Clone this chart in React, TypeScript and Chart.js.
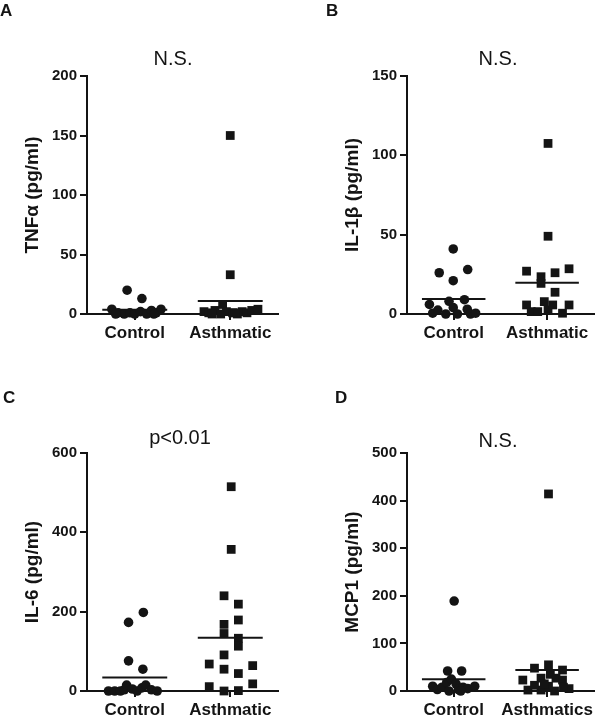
import React, { useEffect, useRef } from "react";
import { Chart, registerables } from "chart.js";

Chart.register(...registerables);

const FONT = 'Arial, "Liberation Sans", Helvetica, sans-serif';
const INK = "#141414";

// ---------- Panel A : TNFα ----------
const tnfLabels = ["Control", "Asthmatic"];
const tnfControl = [20, 13, 4, 1, 0, 1, 0, 2, 0, 3, 1, 4, 0, 0];
const tnfControlX = [0.84, 1.15, 0.52, 0.65, 0.78, 0.9, 1.0, 1.12, 1.25, 1.35, 1.45, 1.55, 0.6, 1.4];
const tnfAsthmatic = [150, 33, 8, 2, 1, 3, 0, 2, 1, 0, 2, 1, 3, 4, 0, 1];
const tnfAsthmaticX = [3.0, 3.0, 2.84, 2.45, 2.55, 2.68, 2.8, 2.92, 3.05, 3.15, 3.25, 3.35, 3.45, 3.58, 2.62, 3.1];
const tnfMeans = [3.5, 11];

// ---------- Panel B : IL-1β ----------
const il1Labels = ["Control", "Asthmatic"];
const il1Control = [41, 26, 28, 21, 6, 0.5, 2.5, 0, 8, 4, 0, 9, 3, 0, 0.5];
const il1ControlX = [0.99, 0.69, 1.3, 0.99, 0.48, 0.55, 0.66, 0.83, 0.9, 0.99, 1.08, 1.23, 1.29, 1.36, 1.47];
const il1Asthmatic = [107.5, 49, 27, 23.5, 26, 28.5, 13.7, 5.7, 1.5, 7.8, 2.5, 5.7, 0.5, 5.7, 19.3, 1.5];
const il1AsthmaticX = [3.02, 3.02, 2.56, 2.87, 3.17, 3.47, 3.17, 2.56, 2.66, 2.94, 3.02, 3.12, 3.33, 3.47, 2.87, 2.8];
const il1Means = [9.5, 19.7];

// ---------- Panel C : IL-6 ----------
const il6Labels = ["Control", "Asthmatic"];
const il6Control = [173, 198, 76, 55, 0, 0, 0, 3, 15, 5, 0, 8, 15, 3, 0];
const il6ControlX = [0.87, 1.18, 0.87, 1.17, 0.45, 0.58, 0.7, 0.78, 0.83, 0.95, 1.05, 1.15, 1.23, 1.35, 1.47];
const il6Asthmatic = [515, 357, 240, 219, 179, 168, 145, 133, 113, 91, 68, 64, 55, 44, 18, 11, 0, 1];
const il6AsthmaticX = [3.02, 3.02, 2.87, 3.17, 3.17, 2.87, 2.87, 3.17, 3.17, 2.87, 2.56, 3.47, 2.87, 3.17, 3.47, 2.56, 2.87, 3.17];
const il6Means = [34, 134];

// ---------- Panel D : MCP1 ----------
const mcpLabels = ["Control", "Asthmatics"];
const mcpControl = [189, 42, 42, 10, 3, 8, 18, 25, 15, 3, 8, 5, 10, 0, 0];
const mcpControlX = [1.01, 0.87, 1.17, 0.55, 0.65, 0.75, 0.85, 0.95, 1.05, 1.1, 1.2, 1.3, 1.45, 0.9, 1.15];
const mcpAsthmatic = [414, 23, 48, 55, 44, 27, 27, 23, 2, 2, 10, 0, 5, 15, 35, 12, 8];
const mcpAsthmaticX = [3.03, 2.48, 2.73, 3.03, 3.33, 2.87, 3.19, 3.33, 2.59, 2.87, 3.03, 3.16, 3.47, 2.94, 3.07, 2.73, 3.35];
const mcpMeans = [24.5, 44];

const MEAN_HALF = 0.68;

type PanelDef = {
  letter: string;
  note: string;
  yTitle: string;
  yMax: number;
  yStep: number;
  labels: string[];
  control: number[];
  controlX: number[];
  asth: number[];
  asthX: number[];
  means: number[];
  left: number;
  top: number;
  padLeft: number;
  padRight: number;
  padTop: number;
  padBottom: number;
  letterX: number;
  letterY: number;
  noteX: number;
  noteY: number;
};

const panels: PanelDef[] = [
  {
    letter: "A", note: "N.S.", yTitle: "TNFα (pg/ml)", yMax: 200, yStep: 50,
    labels: tnfLabels, control: tnfControl, controlX: tnfControlX, asth: tnfAsthmatic, asthX: tnfAsthmaticX, means: tnfMeans,
    left: 0, top: 0, padLeft: 0, padRight: 22, padTop: 76, padBottom: 18,
    letterX: 0, letterY: 16, noteX: 173, noteY: 65,
  },
  {
    letter: "B", note: "N.S.", yTitle: "IL-1β (pg/ml)", yMax: 150, yStep: 50,
    labels: il1Labels, control: il1Control, controlX: il1ControlX, asth: il1Asthmatic, asthX: il1AsthmaticX, means: il1Means,
    left: 300, top: 0, padLeft: 20, padRight: 3, padTop: 76, padBottom: 18,
    letterX: 26, letterY: 16, noteX: 198, noteY: 65,
  },
  {
    letter: "C", note: "p<0.01", yTitle: "IL-6 (pg/ml)", yMax: 600, yStep: 200,
    labels: il6Labels, control: il6Control, controlX: il6ControlX, asth: il6Asthmatic, asthX: il6AsthmaticX, means: il6Means,
    left: 0, top: 363, padLeft: 0, padRight: 22, padTop: 90, padBottom: 4,
    letterX: 3, letterY: 40, noteX: 180, noteY: 81,
  },
  {
    letter: "D", note: "N.S.", yTitle: "MCP1 (pg/ml)", yMax: 500, yStep: 100,
    labels: mcpLabels, control: mcpControl, controlX: mcpControlX, asth: mcpAsthmatic, asthX: mcpAsthmaticX, means: mcpMeans,
    left: 300, top: 363, padLeft: 20, padRight: 3, padTop: 90, padBottom: 4,
    letterX: 35, letterY: 40, noteX: 198, noteY: 84,
  },
];

const panelTextPlugin = {
  id: "panelText",
  afterDraw(chart: any, _args: any, opts: any) {
    const ctx = chart.ctx as CanvasRenderingContext2D;
    ctx.save();
    ctx.fillStyle = INK;
    ctx.textBaseline = "alphabetic";
    ctx.textAlign = "left";
    ctx.font = `bold 17px ${FONT}`;
    ctx.fillText(opts.letter, opts.letterX, opts.letterY);
    ctx.textAlign = "center";
    ctx.font = `20px ${FONT}`;
    ctx.fillText(opts.note, opts.noteX, opts.noteY);
    ctx.restore();
  },
};

function PanelChart({ p }: { p: PanelDef }) {
  const ref = useRef<HTMLCanvasElement | null>(null);
  useEffect(() => {
    if (!ref.current) return;
    const ctrlPts = p.control.map((v, i) => ({ x: p.controlX[i], y: v }));
    const asthPts = p.asth.map((v, i) => ({ x: p.asthX[i], y: v }));
    const chart = new Chart(ref.current, {
      type: "scatter",
      data: {
        datasets: [
          {
            data: ctrlPts,
            pointStyle: "circle",
            pointRadius: 4.8,
            backgroundColor: INK,
            borderColor: INK,
            borderWidth: 0,
            clip: false,
          } as any,
          {
            data: asthPts,
            pointStyle: "rect",
            pointRadius: 6.2,
            backgroundColor: INK,
            borderColor: INK,
            borderWidth: 0,
            clip: false,
          } as any,
          {
            data: [
              { x: 1 - MEAN_HALF, y: p.means[0] },
              { x: 1 + MEAN_HALF, y: p.means[0] },
            ],
            showLine: true,
            pointRadius: 0,
            borderColor: INK,
            borderWidth: 2,
            clip: false,
          } as any,
          {
            data: [
              { x: 3 - MEAN_HALF, y: p.means[1] },
              { x: 3 + MEAN_HALF, y: p.means[1] },
            ],
            showLine: true,
            pointRadius: 0,
            borderColor: INK,
            borderWidth: 2,
            clip: false,
          } as any,
        ],
      },
      options: {
        animation: false,
        responsive: false,
        events: [],
        layout: {
          padding: { left: p.padLeft, right: p.padRight, top: p.padTop, bottom: p.padBottom },
        },
        plugins: {
          legend: { display: false },
          tooltip: { enabled: false },
          title: { display: false },
          panelText: {
            letter: p.letter,
            note: p.note,
            letterX: p.letterX,
            letterY: p.letterY,
            noteX: p.noteX,
            noteY: p.noteY,
          },
        } as any,
        scales: {
          x: {
            type: "linear",
            min: 0,
            max: 4,
            afterBuildTicks: (s: any) => {
              s.ticks = [{ value: 1 }, { value: 3 }];
            },
            afterFit: (s: any) => {
              s.height = 31;
            },
            ticks: {
              autoSkip: false,
              maxRotation: 0,
              minRotation: 0,
              padding: 3,
              color: INK,
              font: { family: FONT, size: 17, weight: "bold" },
              callback: (v: any) => (v === 1 ? p.labels[0] : v === 3 ? p.labels[1] : ""),
            },
            grid: {
              display: true,
              drawOnChartArea: false,
              drawTicks: true,
              tickLength: 6,
              color: INK,
              lineWidth: 2,
            },
            border: { display: true, color: INK, width: 2 },
          },
          y: {
            type: "linear",
            min: 0,
            max: p.yMax,
            afterFit: (s: any) => {
              s.width = 87;
            },
            ticks: {
              stepSize: p.yStep,
              padding: 3,
              color: INK,
              font: { family: FONT, size: 15, weight: "bold" },
            },
            title: {
              display: true,
              text: p.yTitle,
              color: INK,
              font: { family: FONT, size: 19, weight: "bold" },
              padding: { top: 21, bottom: 0 },
            },
            grid: {
              display: true,
              drawOnChartArea: false,
              drawTicks: true,
              tickLength: 7,
              color: INK,
              lineWidth: 2,
            },
            border: { display: true, color: INK, width: 2 },
          },
        },
      } as any,
      plugins: [panelTextPlugin as any],
    });
    return () => chart.destroy();
  }, [p]);

  return (
    <canvas
      ref={ref}
      width={300}
      height={363}
      style={{ position: "absolute", left: p.left, top: p.top, width: 300, height: 363 }}
    />
  );
}

export default function App() {
  return (
    <div
      style={{
        position: "absolute",
        left: 0,
        top: 0,
        width: 600,
        height: 726,
        background: "#ffffff",
        overflow: "hidden",
      }}
    >
      {panels.map((p) => (
        <PanelChart key={p.letter} p={p} />
      ))}
    </div>
  );
}
